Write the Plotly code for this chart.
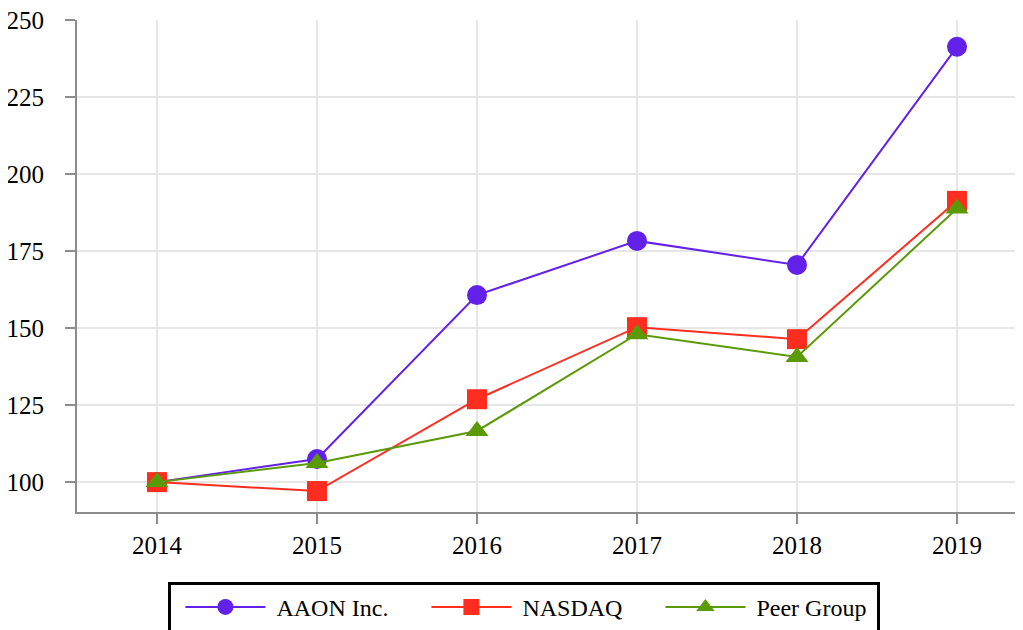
import plotly.graph_objects as go

years = [2014, 2015, 2016, 2017, 2018, 2019]
aaon = [100, 107.5, 160.7, 178.3, 170.5, 241.3]
nasdaq = [100, 97.1, 126.9, 150.3, 146.4, 191.3]
peer = [100, 106.2, 116.6, 148.0, 140.6, 188.8]

NB = "\u00a0"
series = [
    (NB + "AAON Inc." + NB * 4, aaon, "#6320e8", "circle", 20),
    (NB + "NASDAQ" + NB * 4, nasdaq, "#ff2d1f", "square", 20),
    (NB + "Peer Group" + NB, peer, "#5a9a06", "triangle-up", 20),
]

fig = go.Figure()
for name, vals, color, sym, size in series:
    fig.add_trace(go.Scatter(
        x=years, y=vals, name=name, mode="lines+markers",
        line=dict(color=color, width=2),
        marker=dict(symbol=sym, size=size, color=color),
    ))

font = dict(family="Liberation Serif, Times New Roman, serif", size=25, color="black")
lfont = dict(family="Liberation Serif, Times New Roman, serif", size=24, color="black")

fig.update_layout(
    width=1023, height=630,
    margin=dict(l=69, r=0, t=12, b=126, autoexpand=False),
    paper_bgcolor="white", plot_bgcolor="white",
    font=font,
    showlegend=True,
    legend=dict(
        orientation="h", x=0.469, xanchor="center", y=-0.142, yanchor="top",
        bordercolor="black", borderwidth=3, font=lfont,
        itemwidth=80, indentation=9,
    ),
)
fig.update_xaxes(
    range=[2013.5, 2019.4625], tickmode="array", tickvals=years,
    ticktext=[str(y) for y in years],
    showgrid=True, gridcolor="#e6e6e6", gridwidth=2,
    showline=True, linecolor="#8c8c8c", linewidth=2,
    ticks="outside", ticklen=10, tickwidth=2, tickcolor="#8c8c8c",
    ticklabelstandoff=0, zeroline=False,
)
fig.update_yaxes(
    range=[90.3, 250], tickmode="array", tickvals=[100, 125, 150, 175, 200, 225, 250],
    showgrid=True, gridcolor="#e6e6e6", gridwidth=2,
    showline=True, linecolor="#8c8c8c", linewidth=2,
    ticks="outside", ticklen=10, tickwidth=2, tickcolor="#8c8c8c",
    ticklabelstandoff=16, ticklabeloverflow="allow", zeroline=False,
)

fig.write_html("out.html")
